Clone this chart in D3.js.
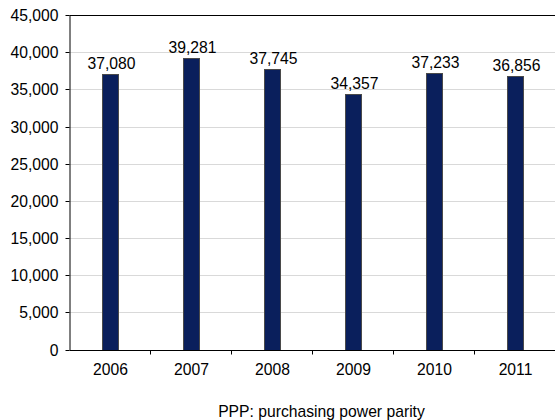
<!DOCTYPE html>
<html>
<head>
<meta charset="utf-8">
<script src="https://cdn.jsdelivr.net/npm/d3@7"></script>
<style>
  html, body { margin: 0; padding: 0; background: #fff; }
  svg { display: block; font-family: "Liberation Sans", Arial, sans-serif; }
</style>
</head>
<body>
<svg id="chart" width="555" height="420"></svg>
<script>
// GDP per capita (PPP), by year
const years = ["2006", "2007", "2008", "2009", "2010", "2011"];
const values = [37080, 39281, 37745, 34357, 37233, 36856];
const yTicks = [0, 5000, 10000, 15000, 20000, 25000, 30000, 35000, 40000, 45000];
const caption = "PPP: purchasing power parity";

const svg = d3.select("#chart");
const width = 555, height = 420;
const fontSize = 15.7;

const x = d3.scaleBand()
  .domain(years)
  .range([70, 556]);

const y = d3.scaleLinear()
  .domain([0, 45000])
  .range([349.5, 15]);

const fmt = d3.format(",");
const axisX = 69.5;

// horizontal gridlines
svg.append("g")
  .selectAll("line")
  .data(yTicks.filter(d => d > 0 && d < 45000))
  .join("line")
  .attr("x1", axisX)
  .attr("x2", width)
  .attr("y1", d => Math.round(y(d)) + 0.5)
  .attr("y2", d => Math.round(y(d)) + 0.5)
  .attr("stroke", "#d9d9d9")
  .attr("stroke-width", 1);

// top frame line
svg.append("line")
  .attr("x1", axisX).attr("x2", width)
  .attr("y1", Math.round(y(45000)) + 0.5).attr("y2", Math.round(y(45000)) + 0.5)
  .attr("stroke", "#000");

// bars
const barW = 17;
svg.append("g")
  .selectAll("rect")
  .data(values)
  .join("rect")
  .attr("x", (d, i) => Math.round(x(years[i]) + x.bandwidth() / 2 - barW / 2) + 0.5)
  .attr("y", d => Math.round(y(d)) + 0.5)
  .attr("width", barW - 1)
  .attr("height", d => Math.round(y(0)) - Math.round(y(d)))
  .attr("fill", "#0a1f5c")
  .attr("stroke", "#4a4a4a")
  .attr("stroke-width", 1);

// value labels
svg.append("g")
  .selectAll("text")
  .data(values)
  .join("text")
  .attr("x", (d, i) => x(years[i]) + x.bandwidth() / 2 + 1)
  .attr("y", d => y(d) - 5)
  .attr("text-anchor", "middle")
  .attr("font-size", fontSize)
  .attr("fill", "#000")
  .text(d => fmt(d));

// y axis
const yAxis = d3.axisLeft(y)
  .tickValues(yTicks)
  .tickFormat(fmt)
  .tickSize(4)
  .tickSizeOuter(0)
  .tickPadding(7);
const gy = svg.append("g")
  .attr("transform", `translate(${axisX},0)`)
  .call(yAxis);
gy.selectAll(".tick").attr("transform", d => `translate(0,${Math.round(y(d)) + 0.5})`);
gy.selectAll("text").attr("font-size", fontSize).attr("fill", "#000")
  .attr("font-family", "Liberation Sans, Arial, sans-serif");
gy.selectAll("line, path").attr("stroke", "#000");

// x axis: tick marks at category boundaries
const xAxisY = Math.round(y(0)) + 0.5;
svg.append("line")
  .attr("x1", axisX).attr("x2", width)
  .attr("y1", xAxisY).attr("y2", xAxisY)
  .attr("stroke", "#000");
svg.append("g")
  .selectAll("line")
  .data(years.slice(1))
  .join("line")
  .attr("x1", d => Math.round(x(d)) - 0.5)
  .attr("x2", d => Math.round(x(d)) - 0.5)
  .attr("y1", xAxisY)
  .attr("y2", xAxisY + 4)
  .attr("stroke", "#000");

svg.append("g")
  .selectAll("text")
  .data(years)
  .join("text")
  .attr("x", d => x(d) + x.bandwidth() / 2)
  .attr("y", xAxisY + 24)
  .attr("text-anchor", "middle")
  .attr("font-size", fontSize)
  .attr("fill", "#000")
  .text(d => d);

// caption
svg.append("text")
  .attr("x", 321.5)
  .attr("y", 417)
  .attr("text-anchor", "middle")
  .attr("font-size", fontSize)
  .attr("fill", "#000")
  .text(caption);
</script>
</body>
</html>
